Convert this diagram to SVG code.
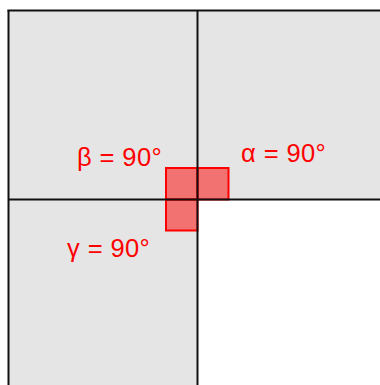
<svg xmlns="http://www.w3.org/2000/svg" width="380" height="385" viewBox="0 0 380 385">
<style>
.sq{fill:#e5e5e5;stroke:none}
.ang{fill:#ff0000;fill-opacity:0.5;stroke:#ff0000;stroke-width:2}
.ln{stroke:#111111;stroke-width:2;fill:none}
.lbl{font-family:"Liberation Sans",Arial,sans-serif;font-size:25.5px;letter-spacing:0.4px;fill:#ff0000}
</style>
<rect width="380" height="385" fill="#ffffff"/>
<g id="square-top-left"><rect class="sq" x="8.5" y="10.5" width="189" height="189"/></g>
<g id="square-top-right"><rect class="sq" x="197.5" y="10.5" width="182.5" height="189"/></g>
<g id="square-bottom-left"><rect class="sq" x="8.5" y="199.5" width="189" height="185.5"/></g>
<g id="angle-beta"><rect class="ang" x="166" y="168" width="31.5" height="31.5"/><text class="lbl" x="77" y="166">β = 90°</text></g>
<g id="angle-alpha"><rect class="ang" x="197.5" y="168" width="31" height="31.5"/><text class="lbl" x="241" y="161.5">α = 90°</text></g>
<g id="angle-gamma"><rect class="ang" x="166" y="199.5" width="31.5" height="31"/><text class="lbl" x="67" y="256.5">γ = 90°</text></g>
<g id="connectors">
<line class="ln" x1="7.5" y1="10.5" x2="380" y2="10.5"/>
<line class="ln" x1="8.5" y1="10" x2="8.5" y2="385"/>
<line class="ln" x1="197.5" y1="10" x2="197.5" y2="385"/>
<line class="ln" x1="8" y1="199.5" x2="380" y2="199.5"/>
</g>
</svg>
